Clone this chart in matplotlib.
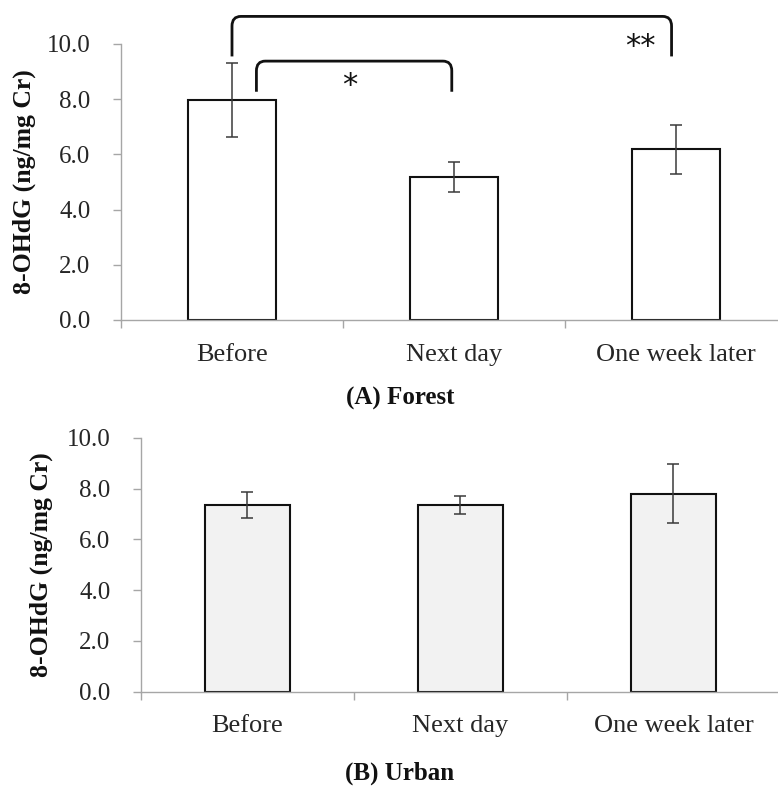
import matplotlib
matplotlib.use("Agg")
import matplotlib.pyplot as plt
from matplotlib.path import Path
from matplotlib.patches import PathPatch
import numpy as np

categories = ['Before', 'Next day', 'One week later']
forest_mean = [7.97, 5.19, 6.18]
forest_err = [1.34, 0.55, 0.90]
urban_mean = [7.34, 7.34, 7.80]
urban_err = [0.51, 0.36, 1.15]

plt.rcParams['font.family'] = 'Liberation Serif'

W, H = 778, 786
fig = plt.figure(figsize=(W / 100, H / 100), dpi=100)

AXIS_GRAY = '#a6a6a6'
TEXT_GRAY = '#262626'


def px_axes(left, top, right, bottom):
    return fig.add_axes([left / W, 1 - bottom / H, (right - left) / W, (bottom - top) / H])


def style_axes(ax, means, errs, face):
    x = np.arange(len(categories))
    ax.bar(x, means, width=0.4, color=face, edgecolor='#111111', linewidth=1.5, zorder=2)
    ax.errorbar(x, means, yerr=errs, fmt='none', ecolor='#3a3a3a', elinewidth=1.1,
                capsize=4.5, capthick=1.1, zorder=3)
    ax.set_xlim(-0.5, len(categories) - 0.5)
    ax.set_ylim(0, 10)
    ax.set_yticks(np.arange(0, 10.1, 2))
    ax.set_yticklabels([f'{v:.1f}' for v in np.arange(0, 10.1, 2)])
    ax.set_xticks(x)
    ax.set_xticklabels(categories)
    ax.set_xticks(np.arange(-0.5, len(categories)), minor=True)
    ax.tick_params(axis='x', which='major', length=0, pad=17, labelsize=19, labelcolor=TEXT_GRAY)
    ax.tick_params(axis='x', which='minor', length=6, width=1, color=AXIS_GRAY, direction='out')
    ax.tick_params(axis='y', length=6, width=1, color=AXIS_GRAY, pad=16, labelsize=18,
                   labelcolor=TEXT_GRAY)
    for side in ['top', 'right']:
        ax.spines[side].set_visible(False)
    for side in ['left', 'bottom']:
        ax.spines[side].set_color(AXIS_GRAY)
        ax.spines[side].set_linewidth(1)
    ax.set_ylabel('8-OHdG (ng/mg Cr)', fontsize=18.5, fontweight='bold', color='#111111')


def bracket(ax, x0, x1, y_low, y_top, rx=0.04, ry=0.35):
    verts = [(x0, y_low), (x0, y_top - ry), (x0, y_top), (x0 + rx, y_top),
             (x1 - rx, y_top), (x1, y_top), (x1, y_top - ry), (x1, y_low)]
    codes = [Path.MOVETO, Path.LINETO, Path.CURVE3, Path.CURVE3,
             Path.LINETO, Path.CURVE3, Path.CURVE3, Path.LINETO]
    ax.add_patch(PathPatch(Path(verts, codes), fill=False, edgecolor='#111111',
                           linewidth=2.0, clip_on=False, zorder=4))


# (A) Forest
ax1 = px_axes(121, 44, 787, 320)
style_axes(ax1, forest_mean, forest_err, 'white')
ax1.yaxis.set_label_coords(-0.127, 0.5)
bracket(ax1, 0.0, 1.98, 9.55, 11.0)
bracket(ax1, 0.11, 0.99, 8.27, 9.38)
ax1.text(0.53, 8.5, '*', family='DejaVu Sans', fontsize=22, ha='center', va='center',
         color='#111111')
ax1.text(1.84, 9.9, '**', family='DejaVu Sans', fontsize=22, ha='center', va='center',
         color='#111111')

# (B) Urban
ax2 = px_axes(141, 437.7, 780, 691.7)
style_axes(ax2, urban_mean, urban_err, '#f2f2f2')
ax2.yaxis.set_label_coords(-0.137, 0.5)

fig.text(400 / W, 1 - 398 / H, '(A) Forest', ha='center', va='center', fontsize=18,
         fontweight='bold', color='#111111')
fig.text(400 / W, 1 - 773 / H, '(B) Urban', ha='center', va='center', fontsize=18,
         fontweight='bold', color='#111111')

fig.savefig('out.png', dpi=100)
